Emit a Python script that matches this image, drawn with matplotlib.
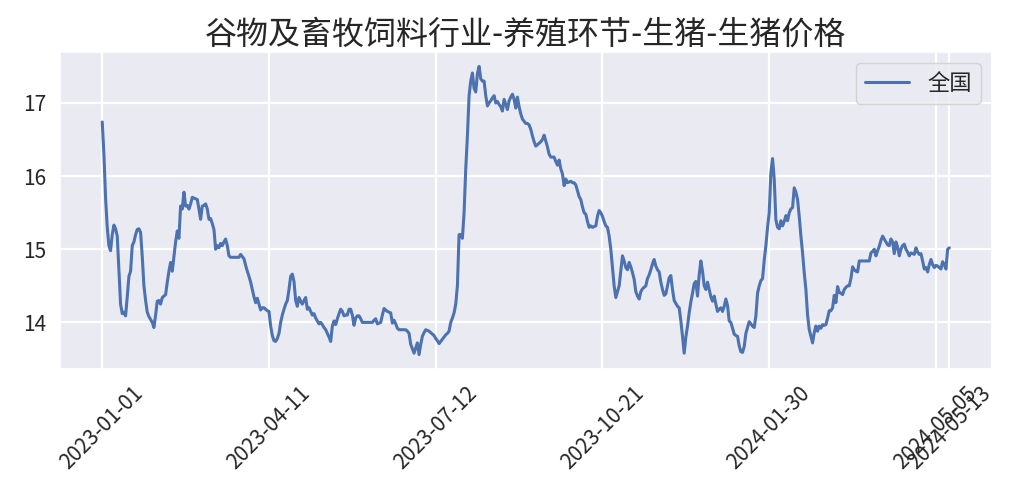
#%%
# Import
import numpy as np
import matplotlib
matplotlib.use('Agg')
import matplotlib.pyplot as plt
import seaborn as sns


#%%
# Data (one value per trading day)

title = '谷物及畜牧饲料行业-养殖环节-生猪-生猪价格'
series_name = '全国'

tick_labels = ['2023-01-01', '2023-04-11', '2023-07-12', '2023-10-21',
               '2024-01-30', '2024-05-05', '2024-05-13']

price = [
    16.74, 16.30, 15.70, 15.30, 15.05, 14.98, 15.20, 15.33, 15.28, 15.18,
    14.70, 14.25, 14.12, 14.14, 14.09, 14.35, 14.63, 14.70, 15.05, 15.10,
    15.20, 15.27, 15.28, 15.23, 14.90, 14.50, 14.30, 14.14, 14.08, 14.04,
    14.00, 13.93, 14.10, 14.29, 14.30, 14.25, 14.34, 14.36, 14.38, 14.55,
    14.70, 14.82, 14.70, 14.90, 15.10, 15.25, 15.15, 15.59, 15.55, 15.78,
    15.59, 15.60, 15.55, 15.62, 15.71, 15.70, 15.69, 15.68, 15.55, 15.41,
    15.59, 15.60, 15.62, 15.55, 15.41, 15.42, 15.35, 15.27, 15.00, 15.05,
    15.02, 15.08, 15.05, 15.10, 15.14, 15.05, 14.91, 14.89, 14.89, 14.89,
    14.89, 14.89, 14.89, 14.93, 14.90, 14.87, 14.78, 14.70, 14.63, 14.55,
    14.45, 14.35, 14.27, 14.33, 14.25, 14.17, 14.20, 14.20, 14.18, 14.16,
    14.15, 13.95, 13.82, 13.75, 13.74, 13.78, 13.85, 14.00, 14.10, 14.18,
    14.25, 14.30, 14.45, 14.63, 14.66, 14.56, 14.30, 14.22, 14.34, 14.29,
    14.25, 14.30, 14.34, 14.18, 14.20, 14.15, 14.10, 14.12, 14.06, 14.02,
    13.98, 14.00, 13.97, 13.93, 13.90, 13.85, 13.80, 13.74, 13.95, 14.02,
    13.97, 14.05, 14.12, 14.18, 14.15, 14.09, 14.10, 14.10, 14.18, 14.18,
    14.10, 13.96, 14.06, 14.09, 14.09, 14.05, 14.00, 14.00, 14.00, 14.00,
    14.00, 14.00, 14.00, 14.03, 14.05, 13.98, 13.99, 14.00, 14.10, 14.19,
    14.17, 14.15, 14.14, 14.13, 13.99, 14.03, 13.98, 13.92, 13.90, 13.90,
    13.90, 13.90, 13.90, 13.88, 13.85, 13.70, 13.64, 13.58, 13.65, 13.72,
    13.56, 13.70, 13.81, 13.86, 13.90, 13.89, 13.88, 13.86, 13.84, 13.82,
    13.78, 13.75, 13.71, 13.74, 13.77, 13.80, 13.83, 13.85, 13.88, 14.00,
    14.06, 14.13, 14.25, 14.50, 15.20, 15.20, 15.15, 15.50, 16.10, 16.55,
    17.10, 17.30, 17.41, 17.20, 17.15, 17.40, 17.50, 17.33, 17.30, 17.30,
    17.10, 16.96, 17.00, 17.03, 17.07, 17.10, 17.00, 17.02, 16.98, 16.95,
    16.89, 17.05, 16.98, 16.91, 17.03, 17.08, 17.12, 17.05, 16.93, 17.08,
    16.95, 16.85, 16.78, 16.75, 16.72, 16.72, 16.70, 16.64, 16.55, 16.47,
    16.41, 16.43, 16.45, 16.47, 16.50, 16.56, 16.48, 16.40, 16.30, 16.26,
    16.26, 16.26, 16.20, 16.15, 16.22, 16.10, 16.03, 15.87, 15.96, 15.91,
    15.92, 15.93, 15.91, 15.91, 15.88, 15.80, 15.72, 15.68, 15.58, 15.50,
    15.48, 15.38, 15.30, 15.32, 15.30, 15.31, 15.32, 15.45, 15.53, 15.50,
    15.45, 15.38, 15.32, 15.30, 15.18, 15.00, 14.75, 14.50, 14.34, 14.42,
    14.50, 14.70, 14.91, 14.84, 14.75, 14.72, 14.82, 14.76, 14.68, 14.59,
    14.42, 14.36, 14.32, 14.42, 14.46, 14.48, 14.50, 14.60, 14.65, 14.72,
    14.80, 14.86, 14.77, 14.72, 14.69, 14.55, 14.45, 14.37, 14.39, 14.50,
    14.61, 14.64, 14.45, 14.30, 14.26, 14.22, 14.20, 14.02, 13.81, 13.58,
    13.80, 13.95, 14.13, 14.28, 14.40, 14.53, 14.56, 14.36, 14.65, 14.84,
    14.70, 14.50, 14.45, 14.55, 14.45, 14.35, 14.29, 14.36, 14.25, 14.15,
    14.18, 14.20, 14.15, 14.22, 14.32, 14.23, 14.02, 14.00, 13.92, 13.84,
    13.82, 13.81, 13.68, 13.60, 13.59, 13.67, 13.85, 13.93, 14.01, 13.98,
    13.95, 13.93, 14.09, 14.40, 14.50, 14.57, 14.60, 14.85, 15.05, 15.30,
    15.50, 16.05, 16.24, 15.96, 15.40, 15.30, 15.28, 15.39, 15.32, 15.38,
    15.46, 15.39, 15.50, 15.55, 15.57, 15.84, 15.78, 15.68, 15.45, 15.18,
    14.95, 14.68, 14.45, 14.10, 13.90, 13.81, 13.72, 13.86, 13.95, 13.88,
    13.95, 13.92, 13.97, 13.96, 13.97, 14.06, 14.16, 14.16, 14.20, 14.37,
    14.27, 14.49, 14.41, 14.40, 14.38, 14.45, 14.48, 14.50, 14.50, 14.60,
    14.76, 14.72, 14.70, 14.69, 14.84, 14.84, 14.84, 14.84, 14.84, 14.84,
    14.84, 14.95, 14.97, 15.00, 14.91, 14.98, 15.04, 15.12, 15.18, 15.14,
    15.10, 15.06, 15.05, 15.14, 15.10, 14.94, 15.10, 15.03, 14.91, 15.00,
    15.05, 15.07, 15.00, 14.96, 14.91, 14.95, 14.94, 14.93, 15.02, 14.96,
    14.93, 14.94, 14.84, 14.73, 14.75, 14.69, 14.79, 14.86, 14.79, 14.75,
    14.78, 14.77, 14.75, 14.73, 14.83, 14.79, 14.73, 15.00, 15.02,
]


#%%
# Style

sns.set_theme(style='darkgrid')
plt.rcParams['font.family'] = ['Noto Sans CJK SC', 'DejaVu Sans']
plt.rcParams['axes.unicode_minus'] = False
plt.rcParams['grid.linewidth'] = 1.6


#%%
# Plot

n = len(price)
x = np.arange(n)
ticks = list(range(0, n, 100)) + [n - 1]

fig, ax = plt.subplots(figsize=(10.15, 5.0), dpi=100)
fig.subplots_adjust(left=0.059, right=0.977, top=0.896, bottom=0.262)

ax.plot(x, price, color='#4c72b0', linewidth=2.2, label=series_name)

ax.set_xticks(ticks)
ax.set_xticklabels(tick_labels, rotation=45, fontsize=15)
ax.tick_params(axis='y', labelsize=15)
ax.set_yticks([14, 15, 16, 17])

ax.set_title(title, fontsize=23)
ax.legend(loc='upper right', fontsize=16)

fig.savefig('out.png')
